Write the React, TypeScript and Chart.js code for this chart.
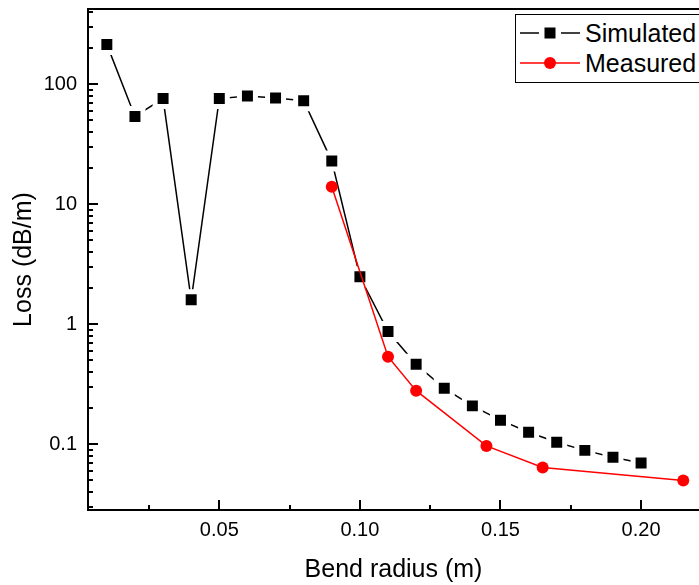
import React, { useEffect, useRef } from "react";
import { Chart, registerables } from "chart.js";

Chart.register(...registerables);

const radiusSim = [0.01, 0.02, 0.03, 0.04, 0.05, 0.06, 0.07, 0.08, 0.09, 0.10, 0.11, 0.12, 0.13, 0.14, 0.15, 0.16, 0.17, 0.18, 0.19, 0.20];
const lossSim = [215, 54, 76, 1.6, 76, 80, 77, 73, 22.9, 2.49, 0.87, 0.464, 0.293, 0.209, 0.159, 0.126, 0.104, 0.089, 0.078, 0.0698];
const radiusMeas = [0.09, 0.11, 0.12, 0.145, 0.165, 0.215];
const lossMeas = [14.0, 0.537, 0.28, 0.097, 0.064, 0.05];
const xTicks = [0.05, 0.1, 0.15, 0.2];
const xMinorTicks = [0.025, 0.075, 0.125, 0.175];
const yTicks = [0.1, 1, 10, 100];
const yMinorMultipliers = [2, 3, 4, 5, 6, 7, 8, 9];
const yDecades = [0.01, 0.1, 1, 10, 100];

const FONT = "'Liberation Sans', Arial, Helvetica, sans-serif";

const axesPlugin = {
  id: "originAxes",
  afterDraw(chart: any) {
    const { ctx, chartArea: a, scales } = chart;
    const x = scales.x;
    const y = scales.y;
    ctx.save();
    ctx.strokeStyle = "#000";
    ctx.lineWidth = 2;
    ctx.beginPath();
    ctx.moveTo(a.left - 1, a.top);
    ctx.lineTo(a.right + 2, a.top);
    ctx.moveTo(a.left, a.top - 1);
    ctx.lineTo(a.left, a.bottom + 1);
    ctx.moveTo(a.left - 1, a.bottom);
    ctx.lineTo(a.right + 2, a.bottom);
    xTicks.forEach((v) => {
      const px = Math.round(x.getPixelForValue(v));
      ctx.moveTo(px, a.bottom);
      ctx.lineTo(px, a.bottom - 10);
    });
    xMinorTicks.forEach((v) => {
      const px = Math.round(x.getPixelForValue(v));
      ctx.moveTo(px, a.bottom);
      ctx.lineTo(px, a.bottom - 5);
    });
    yTicks.forEach((v) => {
      const py = Math.round(y.getPixelForValue(v));
      ctx.moveTo(a.left, py);
      ctx.lineTo(a.left + 10, py);
    });
    yDecades.forEach((d) => {
      yMinorMultipliers.forEach((m) => {
        const v = d * m;
        if (v < y.min || v > y.max) return;
        const py = Math.round(y.getPixelForValue(v));
        ctx.moveTo(a.left, py);
        ctx.lineTo(a.left + 5, py);
      });
    });
    ctx.stroke();
    ctx.restore();
  },
};

function zeroPadding(s: any) {
  s.paddingTop = 0;
  s.paddingBottom = 0;
  s.paddingLeft = 0;
  s.paddingRight = 0;
}

function LegendSymbol({ kind }: { kind: "sim" | "meas" }) {
  if (kind === "sim") {
    return (
      <svg width={62} height={16} style={{ position: "absolute", left: 3, top: -8 }}>
        <line x1={1} y1={8} x2={20} y2={8} stroke="#000" strokeWidth={1.5} />
        <rect x={25.5} y={2.5} width={11} height={11} fill="#000" />
        <line x1={42} y1={8} x2={61} y2={8} stroke="#000" strokeWidth={1.5} />
      </svg>
    );
  }
  return (
    <svg width={62} height={16} style={{ position: "absolute", left: 3, top: -8 }}>
      <line x1={1} y1={8} x2={61} y2={8} stroke="#ff0000" strokeWidth={1.5} />
      <circle cx={31} cy={8} r={6} fill="#ff0000" />
    </svg>
  );
}

export default function App() {
  const canvasRef = useRef<HTMLCanvasElement | null>(null);

  useEffect(() => {
    const canvas = canvasRef.current;
    if (!canvas) return;
    const chart = new Chart(canvas, {
      type: "line",
      data: {
        datasets: [
          {
            label: "Measured",
            data: radiusMeas.map((r, i) => ({ x: r, y: lossMeas[i] })),
            borderColor: "#ff0000",
            backgroundColor: "#ff0000",
            borderWidth: 1.5,
            pointStyle: "circle",
            pointRadius: 6,
            pointBorderWidth: 0,
            pointBackgroundColor: "#ff0000",
            tension: 0,
            order: 0,
          },
          {
            label: "Simulated",
            data: radiusSim.map((r, i) => ({ x: r, y: lossSim[i] })),
            borderColor: "#000000",
            backgroundColor: "#000000",
            borderWidth: 1.5,
            pointStyle: "rect",
            pointRadius: 11.3,
            pointBorderWidth: 5,
            pointBorderColor: "#ffffff",
            pointBackgroundColor: "#000000",
            tension: 0,
            order: 1,
          },
        ],
      },
      options: {
        animation: false,
        responsive: false,
        maintainAspectRatio: false,
        layout: { autoPadding: false, padding: { top: 9, right: 0, bottom: 0, left: 0 } },
        plugins: {
          legend: { display: false },
          tooltip: { enabled: false },
        },
        scales: {
          x: {
            type: "linear",
            min: 0.0033,
            max: 0.2206,
            afterFit: (s: any) => {
              s.height = 75;
              zeroPadding(s);
            },
            afterBuildTicks: (s: any) => {
              s.ticks = xTicks.map((v) => ({ value: v }));
            },
            grid: { display: false, drawTicks: false, tickLength: 0 },
            border: { display: false },
            ticks: {
              color: "#000",
              font: { family: FONT, size: 20 },
              padding: 8,
              maxRotation: 0,
              autoSkip: false,
              callback: (v: any) => Number(v).toFixed(2),
            },
            title: {
              display: true,
              text: "Bend radius (m)",
              color: "#000",
              font: { family: FONT, size: 25 },
              padding: { top: 0, bottom: 0 },
            },
          },
          y: {
            type: "logarithmic",
            min: 0.02835,
            max: 424,
            afterFit: (s: any) => {
              s.width = 88;
              zeroPadding(s);
            },
            afterBuildTicks: (s: any) => {
              s.ticks = yTicks.map((v) => ({ value: v }));
            },
            grid: { display: false, drawTicks: false, tickLength: 0 },
            border: { display: false },
            ticks: {
              color: "#000",
              font: { family: FONT, size: 20 },
              padding: 11,
              autoSkip: false,
              callback: (v: any) => String(Number(v)),
            },
            title: {
              display: true,
              text: "Loss (dB/m)",
              color: "#000",
              font: { family: FONT, size: 25 },
              padding: { top: 9, bottom: 0 },
            },
          },
        },
      },
      plugins: [axesPlugin],
    });
    return () => chart.destroy();
  }, []);

  return (
    <div
      style={{
        position: "fixed",
        left: 0,
        top: 0,
        width: 699,
        height: 585,
        overflow: "hidden",
        background: "#fff",
      }}
    >
      <canvas ref={canvasRef} width={699} height={585} style={{ display: "block" }} />
      <div
        style={{
          position: "absolute",
          left: 515,
          top: 14,
          width: 220,
          height: 69,
          boxSizing: "border-box",
          border: "1px solid #000",
          background: "#fff",
          fontFamily: FONT,
          fontSize: 25,
          color: "#000",
        }}
      >
        <div style={{ position: "absolute", left: 0, top: 18, width: 220 }}>
          <LegendSymbol kind="sim" />
          <span style={{ position: "absolute", left: 69, top: -15, lineHeight: "30px", whiteSpace: "nowrap" }}>Simulated</span>
        </div>
        <div style={{ position: "absolute", left: 0, top: 48, width: 220 }}>
          <LegendSymbol kind="meas" />
          <span style={{ position: "absolute", left: 69, top: -15, lineHeight: "30px", whiteSpace: "nowrap" }}>Measured</span>
        </div>
      </div>
    </div>
  );
}
